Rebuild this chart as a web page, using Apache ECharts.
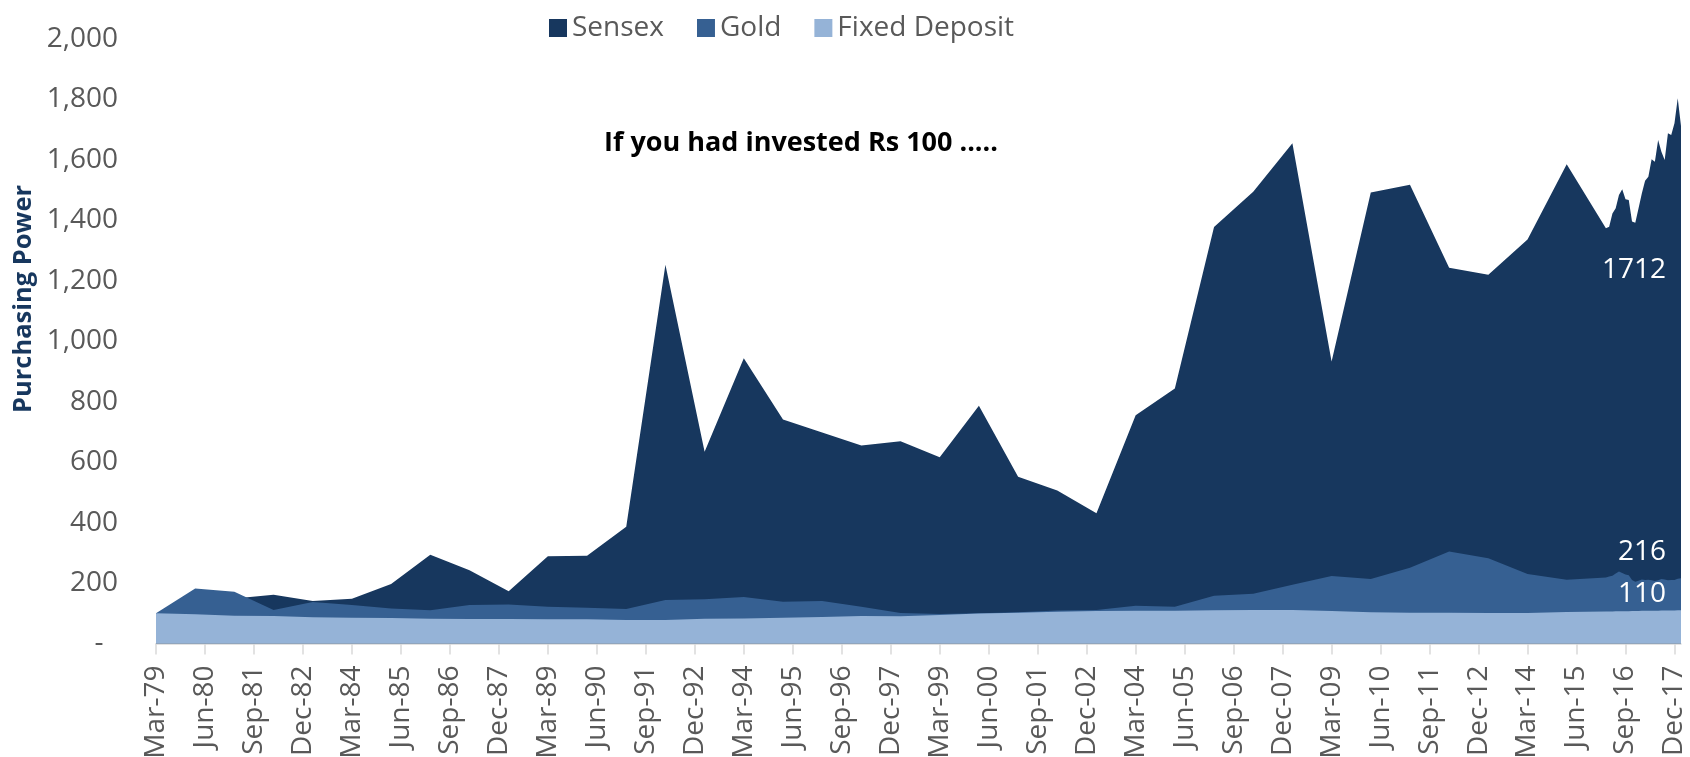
<!DOCTYPE html>
<html>
<head>
<meta charset="utf-8">
<script src="https://cdn.jsdelivr.net/npm/echarts@6/dist/echarts.min.js"></script>
<style>
html,body{margin:0;padding:0;background:#fff;}
#chart{width:1690px;height:757px;}
</style>
</head>
<body>
<div id="chart"></div>
<script>
// ---- data ----
const dates = [
  'Mar-79','Mar-80','Mar-81','Mar-82','Mar-83','Mar-84','Mar-85','Mar-86','Mar-87','Mar-88',
  'Mar-89','Mar-90','Mar-91','Mar-92','Mar-93','Mar-94','Mar-95','Mar-96','Mar-97','Mar-98',
  'Mar-99','Mar-00','Mar-01','Mar-02','Mar-03','Mar-04','Mar-05','Mar-06','Mar-07','Mar-08',
  'Mar-09','Mar-10','Mar-11','Mar-12','Mar-13','Mar-14','Mar-15','Mar-16',
  'Apr-16','May-16','Jun-16','Jul-16','Aug-16','Sep-16','Oct-16','Nov-16','Dec-16',
  'Jan-17','Feb-17','Mar-17','Apr-17','May-17','Jun-17','Jul-17','Aug-17','Sep-17','Oct-17','Nov-17','Dec-17',
  'Jan-18','Feb-18'
];
const sensex = [
  100,125,149,161,141,148,197,294,242,173,
  289,290,386,1253,634,944,741,698,655,669,
  616,787,552,506,431,755,844,1378,1495,1655,
  933,1492,1518,1243,1220,1337,1586,1374,
  1379,1423,1440,1484,1503,1470,1467,1396,1392,
  1440,1489,1531,1544,1602,1594,1666,1627,1600,1688,1682,1721,
  1804,1712
];
const gold = [
  100,182,171,111,137,127,116,110,127,129,
  122,118,114,144,146,154,138,141,122,101,
  98,100,103,109,111,125,122,158,165,194,
  223,213,251,304,282,230,211,218,
  222,224,232,238,233,228,226,210,204,
  208,212,210,211,209,207,209,213,212,209,210,210,
  214,216
];
const fixedDeposit = [
  100,96.5,92,91,87,85.5,84,82,81,81,
  80,80,78,78,82,83,85.5,88,91,90,
  94,99,102,105,107.5,108.5,108.5,110,111,111,
  107.5,103,102,102,101,101,104,106,
  106,106,106.5,106.5,107,107,107,107.5,107.5,
  107.5,108,108,108,108.5,108.5,108.5,109,109,109,109.5,109.5,
  110,110
];
const seriesNames = ['Sensex','Gold','Fixed Deposit'];
const xTickLabels = [
  'Mar-79','Jun-80','Sep-81','Dec-82','Mar-84','Jun-85','Sep-86','Dec-87','Mar-89','Jun-90',
  'Sep-91','Dec-92','Mar-94','Jun-95','Sep-96','Dec-97','Mar-99','Jun-00','Sep-01','Dec-02',
  'Mar-04','Jun-05','Sep-06','Dec-07','Mar-09','Jun-10','Sep-11','Dec-12','Mar-14','Jun-15',
  'Sep-16','Dec-17'
];
const chartTitle = 'If you had invested Rs 100 .....';
const yAxisTitle = 'Purchasing Power';

// ---- helpers ----
const MONTHS = ['Jan','Feb','Mar','Apr','May','Jun','Jul','Aug','Sep','Oct','Nov','Dec'];
function monthIndex(s){
  const parts = s.split('-');
  const m = MONTHS.indexOf(parts[0]);
  let y = parseInt(parts[1],10);
  y += (y >= 50 ? 1900 : 2000);
  return (y - 1979) * 12 + m - 2;
}
const tickPos = xTickLabels.map(monthIndex);
const labelAt = {};
xTickLabels.forEach((l,i)=>{ labelAt[tickPos[i]] = l; });
const xs = dates.map(monthIndex);
const pairs = arr => xs.map((x,i)=>[x, arr[i]]);

const FONT = '"Open Sans", "Noto Sans", sans-serif';
const colors = ['#17375E','#366092','#95B3D7'];

const chart = echarts.init(document.getElementById('chart'), null, {renderer:'canvas'});

function areaSeries(name, data, color){
  return {
    name: name, type: 'line', data: pairs(data),
    symbol: 'none', showSymbol: false,
    lineStyle: {width: 0, color: color},
    itemStyle: {color: color},
    areaStyle: {color: color, opacity: 1},
    emphasis: {disabled: true},
    silent: true
  };
}

const last = a => Math.round(a[a.length-1]);
function txt(x, y, text, opts){
  return Object.assign({type:'text', x: x, y: y, z: 100, zlevel: 0, silent: true,
    style: Object.assign({text: text, fontFamily: FONT, fontSize: 28, fill: '#ffffff',
      textAlign:'right', align:'right', textVerticalAlign:'middle', verticalAlign:'middle'}, opts.style || {})},
    opts.el || {});
}

chart.setOption({
  animation: false,
  backgroundColor: '#ffffff',
  color: colors,
  grid: {left: 156, right: 9, top: 39, bottom: 113.5, containLabel: false, outerBoundsMode: 'none'},
  legend: {
    data: seriesNames,
    left: 544, top: 9,
    itemWidth: 18, itemHeight: 18, itemGap: 33,
    icon: 'rect',
    textStyle: {fontFamily: FONT, fontSize: 28, color: '#595959'}
  },
  xAxis: {
    type: 'value',
    min: xs[0], max: xs[xs.length-1], interval: 15,
    axisLine: {show: true, lineStyle: {color: '#d9d9d9', width: 1.5}},
    axisTick: {show: true, length: 11, customValues: tickPos, lineStyle: {color: '#d9d9d9', width: 1.5}},
    splitLine: {show: false},
    axisLabel: {
      customValues: tickPos,
      rotate: 90, margin: 22,
      color: '#595959', fontFamily: FONT, fontSize: 28,
      formatter: v => labelAt[v] || ''
    }
  },
  yAxis: {
    type: 'value', min: 0, max: 2000, interval: 200,
    axisLine: {show: false}, axisTick: {show: false}, splitLine: {show: false},
    axisLabel: {
      margin: 38, color: '#595959', fontFamily: FONT, fontSize: 28,
      formatter: v => v === 0 ? '-  ' : v.toLocaleString('en-US')
    }
  },
  series: [
    areaSeries(seriesNames[0], sensex, colors[0]),
    areaSeries(seriesNames[1], gold, colors[1]),
    areaSeries(seriesNames[2], fixedDeposit, colors[2])
  ],
  graphic: [
    txt(604, 143, chartTitle, {style:{fill:'#000000', fontSize: 27, fontWeight:'bold', textAlign:'left', align:'left'}}),
    txt(24, 299, yAxisTitle, {style:{fill:'#17375E', fontSize: 25.5, fontWeight:'bold', textAlign:'center', align:'center'},
                              el:{rotation: Math.PI/2}}),
    txt(1666, 270, String(last(sensex)), {}),
    txt(1666, 552, String(last(gold)), {}),
    txt(1666, 594, String(last(fixedDeposit)), {})
  ]
});
</script>
</body>
</html>
